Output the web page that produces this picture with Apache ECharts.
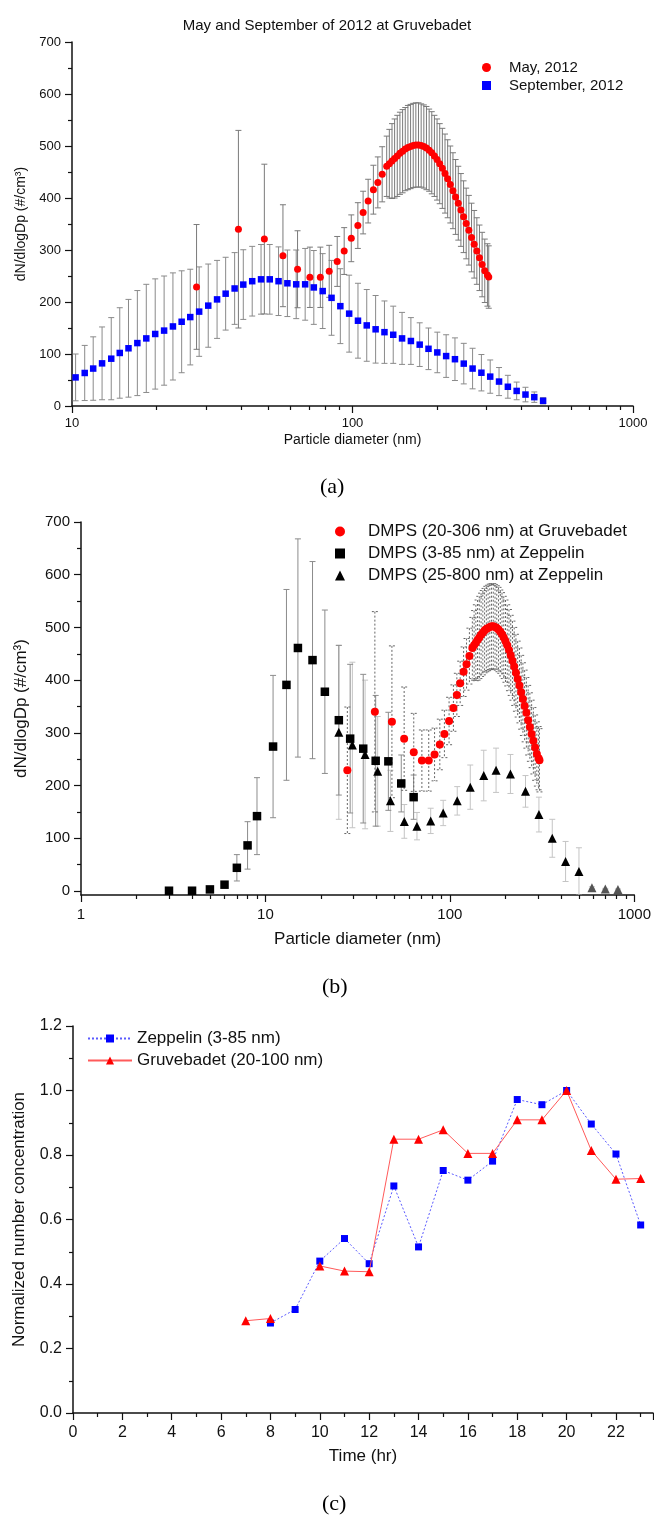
<!DOCTYPE html>
<html>
<head>
<meta charset="utf-8">
<style>
html, body { margin: 0; padding: 0; background: #fff; }
#main { width: 654px; height: 1517px; }
</style>
</head>
<body>
<div id="main"></div>
<script src="https://cdn.jsdelivr.net/npm/echarts@6/dist/echarts.min.js"></script>
<script>
// ---- (a) September 2012 at Gruvebadet
var sepDp = [10.3, 11.1, 11.9, 12.8, 13.8, 14.8, 15.9, 17.1, 18.4, 19.8, 21.3, 22.9, 24.6, 26.4, 28.4,
             30.6, 32.9, 35.3, 38.0, 40.8, 43.9, 47.2, 50.7, 54.5, 58.6, 63.0, 67.8, 72.8, 78.3, 84.2,
             90.5, 97.3, 104.6, 112.4, 120.9, 130, 139.7, 150.2, 161.5, 173.6, 186.6, 200.6, 215.7,
             231.9, 249.3, 268, 288.1, 309.7, 333, 358, 384.8, 413.7, 444.7, 478.1];
var sepN = [55, 63.5, 72, 82, 91, 102, 111, 121, 130, 138.5, 145, 153, 162, 171, 181.5,
            193, 205, 216, 226, 233.5, 240, 243.6, 243.6, 240, 236, 234, 234, 228, 221, 208,
            192, 177.6, 164, 155, 147.5, 142, 137, 130, 125, 118, 110, 103, 96,
            90, 81.5, 72, 64, 56.5, 47, 37, 29, 22, 17, 10];
var sepErr = [45, 53, 61, 70, 79, 87, 94, 101, 104, 106, 105, 103, 98, 92, 86,
              80, 75, 70, 69, 67, 67, 67, 67, 66, 64, 66, 69, 71, 72, 72,
              72, 74, 72, 69, 65, 60, 55, 50, 45, 42, 40, 39, 41,
              41, 39, 39, 35, 32, 27, 22, 17, 14, 10, 6];

// ---- May 2012, DMPS (20-306 nm) at Gruvebadet, used in (a) and (b)
var mayDp = [27.8, 39.2, 48.5, 56.5, 63.7, 70.5, 76.8, 82.6, 88.2, 93.4, 99.0, 104.5, 109.1, 113.7,
             118.7, 123.1, 127.6, 132.4, 135.3, 138.3, 141.3, 144.4, 147.6, 150.9, 154.2, 157.6,
             161.1, 164.6, 168.2, 171.9, 175.7, 179.6, 183.5, 187.6, 191.7, 195.9, 200.2, 204.6,
             209.1, 213.7, 218.4, 223.2, 228.1, 233.1, 238.3, 243.5, 248.9, 254.3, 259.9, 265.7,
             271.5, 277.5, 283.6, 289.8, 296.2, 302.7, 306];
var mayN = [229, 340, 321, 289, 263, 247.5, 247.5, 259, 278, 298, 322.5, 347, 372, 394,
            416, 430, 445.6, 461, 466, 471, 476, 481, 486, 490, 494, 497,
            499, 501, 502, 502, 501, 499, 496, 492, 487, 481, 474, 466,
            457, 447, 437, 426, 414, 402, 390, 377, 364, 351, 338, 324,
            311, 298, 285, 272, 260, 252, 248];
var mayErr = [120, 190, 144, 98, 74, 58, 58, 50, 48, 45, 45, 44, 41, 42,
              47, 49, 53, 58, 66, 72, 76, 78, 79, 80, 80, 81,
              81, 81, 81, 81, 80, 80, 80, 79, 79, 78, 78, 77,
              77, 76, 75, 74, 73, 72, 71, 70, 69, 68, 67, 66,
              65, 64, 63, 62, 61, 60, 60];

// ---- (b) DMPS (3-85 nm) at Zeppelin
var zepSDp = [3, 4, 5, 6, 7, 8, 9, 11, 13, 15, 18, 21, 25, 28.8, 33.9, 39.6, 46.4, 54.5, 63.6];
var zepSN = [0.5, 0.5, 3, 12, 44, 86.5, 142, 274, 391, 461, 438, 378, 324, 289, 270, 247, 246, 204, 178];
var zepSErr = [0.5, 0.5, 2, 6, 25, 45, 73, 135, 181, 207, 187, 155, 142, 141, 141, 124, 93, 54, 42];

// ---- (b) DMPS (25-800 nm) at Zeppelin
var zepLDp = [25, 29.6, 34.7, 40.6, 47.6, 56.6, 66.3, 78.7, 92, 109.6, 129, 152.6, 178, 213,
              257, 304, 359, 424, 501, 589, 696, 815];
var zepLN = [301, 277, 259, 227, 171, 132, 123, 133, 148, 171, 197, 219, 229, 222,
             189, 145, 100, 56, 37, 6, 4, 3];
var zepLErr = [165, 157, 141, 104, 58, 32, 26, 24, 24, 27, 42, 48, 42, 37,
               30, 33, 36, 38, 45, 2, 1, 1];

// ---- (c) normalized hourly number concentration
var hours = [0, 1, 2, 3, 4, 5, 6, 7, 8, 9, 10, 11, 12, 13, 14, 15, 16, 17, 18, 19, 20, 21, 22, 23];
var zepNorm = [null, null, null, null, null, null, null, null, 0.279, 0.321, 0.471, 0.541,
               0.463, 0.704, 0.515, 0.752, 0.722, 0.781, 0.972, 0.956, 1.0, 0.896, 0.803, 0.583];
var gruNorm = [null, null, null, null, null, null, null, 0.286, 0.293, null, 0.456, 0.44,
               0.438, 0.849, 0.849, 0.878, 0.805, 0.805, 0.909, 0.909, 1.0, 0.814, 0.725, 0.727];

var logMinor = [2, 3, 4, 5, 6, 7, 8, 9, 20, 30, 40, 50, 60, 70, 80, 90, 200, 300, 400, 500, 600, 700, 800, 900];
var yTicksB = [0, 100, 200, 300, 400, 500, 600, 700];
var yMinorB = [50, 150, 250, 350, 450, 550, 650];

var FONT = 'Liberation Sans';
var INK = '#111';

var chart = echarts.init(document.getElementById('main'));

function pts(xs, ys) {
    return xs.map(function (x, i) { return [x, ys[i]]; });
}
function linePts(xs, ys) {
    return xs.map(function (x, i) { return [x, ys[i] == null ? '-' : ys[i]]; });
}
function plainNum(v) { return String(v); }

// vertical error bars with caps, placed through the axes
function errorBars(xi, yi, xs, ys, es, color, dash, z) {
    return {
        type: 'custom',
        xAxisIndex: xi,
        yAxisIndex: yi,
        silent: true,
        clip: true,
        z: z || 1,
        encode: { x: 0, y: [1, 2] },
        data: xs.map(function (x, i) { return [x, ys[i] - es[i], ys[i] + es[i]]; }),
        renderItem: function (params, api) {
            var top = api.coord([api.value(0), api.value(2)]);
            var bot = api.coord([api.value(0), api.value(1)]);
            var w = 3;
            var st = { stroke: color, lineWidth: 1, lineDash: dash || null };
            return {
                type: 'group',
                children: [
                    { type: 'line', shape: { x1: top[0], y1: top[1], x2: bot[0], y2: bot[1] }, style: st },
                    { type: 'line', shape: { x1: top[0] - w, y1: top[1], x2: top[0] + w, y2: top[1] }, style: st },
                    { type: 'line', shape: { x1: bot[0] - w, y1: bot[1], x2: bot[0] + w, y2: bot[1] }, style: st }
                ]
            };
        }
    };
}

function baseAxis(extra) {
    var ax = {
        axisLine: { show: true, onZero: false, lineStyle: { color: INK, width: 1.5 } },
        axisTick: { show: true, inside: false, length: 7, lineStyle: { color: INK, width: 1.2 } },
        splitLine: { show: false },
        nameLocation: 'middle',
        nameTextStyle: { color: INK, fontFamily: FONT }
    };
    for (var k in extra) ax[k] = extra[k];
    return ax;
}

function minorAxis(extra) {
    var ax = {
        axisLine: { show: false, onZero: false },
        axisLabel: { show: false },
        axisTick: { show: true, inside: false, length: 4, lineStyle: { color: INK, width: 1.2 } },
        splitLine: { show: false }
    };
    for (var k in extra) ax[k] = extra[k];
    return ax;
}

// legend entries: symbol kept square, text pushed right of it
function legendItems(names, icons) {
    return names.map(function (n, i) { return { name: n, icon: icons[i] }; });
}

var option = {
    animation: false,
    backgroundColor: '#fff',
    textStyle: { fontFamily: FONT },
    title: {
        text: 'May and September of 2012 at Gruvebadet',
        left: 'center',
        top: 13,
        textStyle: { fontFamily: FONT, fontSize: 15, fontWeight: 'normal', color: INK }
    },
    grid: [
        { left: 72, top: 42, width: 561, height: 364 },
        { left: 81, top: 522, width: 555, height: 373 },
        { left: 73, top: 1026, width: 580, height: 387 }
    ],
    xAxis: [
        baseAxis({
            gridIndex: 0, type: 'log', logBase: 10, min: 10, max: 1000, position: 'bottom',
            name: 'Particle diameter (nm)', nameGap: 27,
            nameTextStyle: { color: INK, fontFamily: FONT, fontSize: 14 },
            axisLabel: { color: INK, fontSize: 13, margin: 11, fontFamily: FONT, formatter: plainNum }
        }),
        minorAxis({ gridIndex: 0, type: 'log', logBase: 10, min: 10, max: 1000, position: 'bottom',
            axisTick: { show: true, length: 4, customValues: logMinor, lineStyle: { color: INK, width: 1.2 } } }),
        baseAxis({
            gridIndex: 1, type: 'log', logBase: 10, min: 1, max: 1000, position: 'bottom',
            name: 'Particle diameter (nm)', nameGap: 36,
            nameTextStyle: { color: INK, fontFamily: FONT, fontSize: 17 },
            axisLabel: { color: INK, fontSize: 15, margin: 12, fontFamily: FONT, formatter: plainNum }
        }),
        minorAxis({ gridIndex: 1, type: 'log', logBase: 10, min: 1, max: 1000, position: 'bottom',
            axisTick: { show: true, length: 4, customValues: logMinor, lineStyle: { color: INK, width: 1.2 } } }),
        baseAxis({
            gridIndex: 2, type: 'value', min: 0, max: 23.5, interval: 2, position: 'bottom',
            name: 'Time (hr)', nameGap: 35,
            nameTextStyle: { color: INK, fontFamily: FONT, fontSize: 17 },
            axisLabel: { color: INK, fontSize: 16, margin: 12, fontFamily: FONT, showMaxLabel: false },
            minorTick: { show: true, splitNumber: 2, length: 4, lineStyle: { color: INK, width: 1.2 } }
        })
    ],
    yAxis: [
        baseAxis({
            gridIndex: 0, type: 'value', min: 0, max: 700, interval: 100,
            name: 'dN/dlogDp (#/cm³)', nameGap: 44,
            nameTextStyle: { color: INK, fontFamily: FONT, fontSize: 14 },
            axisLabel: { color: INK, fontSize: 13, margin: 11, fontFamily: FONT },
            minorTick: { show: true, splitNumber: 2, length: 4, lineStyle: { color: INK, width: 1.2 } }
        }),
        baseAxis({
            gridIndex: 1, type: 'value', min: -7.6, max: 700, splitNumber: 7,
            name: 'dN/dlogDp (#/cm³)', nameGap: 51,
            nameTextStyle: { color: INK, fontFamily: FONT, fontSize: 17 },
            axisLabel: { color: INK, fontSize: 15, margin: 11, fontFamily: FONT, customValues: yTicksB,
                formatter: function (v) { return v % 100 === 0 ? String(v) : ''; } },
            axisTick: { show: true, length: 7, customValues: yTicksB, lineStyle: { color: INK, width: 1.2 } }
        }),
        minorAxis({ gridIndex: 1, type: 'value', min: -7.6, max: 700, position: 'left',
            axisTick: { show: true, length: 4, customValues: yMinorB, lineStyle: { color: INK, width: 1.2 } } }),
        baseAxis({
            gridIndex: 2, type: 'value', min: 0, max: 1.2, interval: 0.2,
            name: 'Normalized number concentration', nameGap: 45,
            nameTextStyle: { color: INK, fontFamily: FONT, fontSize: 17 },
            axisLabel: { color: INK, fontSize: 16, margin: 11, fontFamily: FONT,
                formatter: function (v) { return v.toFixed(1); } },
            minorTick: { show: true, splitNumber: 2, length: 4, lineStyle: { color: INK, width: 1.2 } }
        })
    ],
    legend: [
        {
            left: 477, top: 55, orient: 'vertical', itemWidth: 9, itemHeight: 9, itemGap: 3,
            selectedMode: false, symbolKeepAspect: true,
            textStyle: { fontFamily: FONT, fontSize: 15, color: INK, padding: [0, 0, 0, 13] },
            data: legendItems(['May, 2012', 'September, 2012'], ['circle', 'rect'])
        },
        {
            left: 330, top: 518, orient: 'vertical', itemWidth: 10, itemHeight: 10, itemGap: 5,
            selectedMode: false, symbolKeepAspect: true,
            textStyle: { fontFamily: FONT, fontSize: 17, color: INK, padding: [0, 0, 0, 18] },
            data: legendItems(['DMPS (20-306 nm) at Gruvebadet', 'DMPS (3-85 nm) at Zeppelin',
                               'DMPS (25-800 nm) at Zeppelin'], ['circle', 'rect', 'triangle'])
        },
        {
            left: 82, top: 1025, orient: 'vertical', itemWidth: 44, itemHeight: 10, itemGap: 5,
            selectedMode: false,
            textStyle: { fontFamily: FONT, fontSize: 17, color: INK },
            data: ['Zeppelin (3-85 nm)', 'Gruvebadet (20-100 nm)']
        }
    ],
    graphic: [
        { type: 'text', left: 320, top: 476, style: { text: '(a)', font: '22px "Liberation Serif"', fill: '#000' } },
        { type: 'text', left: 322, top: 976, style: { text: '(b)', font: '22px "Liberation Serif"', fill: '#000' } },
        { type: 'text', left: 322, top: 1493, style: { text: '(c)', font: '22px "Liberation Serif"', fill: '#000' } }
    ],
    series: [
        // (a)
        errorBars(0, 0, sepDp, sepN, sepErr, '#8a8a8a', null, 1),
        errorBars(0, 0, mayDp, mayN, mayErr, '#7a7a7a', null, 1),
        {
            name: 'September, 2012', type: 'scatter', xAxisIndex: 0, yAxisIndex: 0,
            symbol: 'rect', symbolSize: 6.5, symbolKeepAspect: true,
            itemStyle: { color: '#0000ff', opacity: 1 }, z: 3,
            data: pts(sepDp, sepN)
        },
        {
            name: 'May, 2012', type: 'scatter', xAxisIndex: 0, yAxisIndex: 0,
            symbol: 'circle', symbolSize: 7, symbolKeepAspect: true,
            itemStyle: { color: '#ff0000', opacity: 1 }, z: 4,
            data: pts(mayDp, mayN)
        },
        // (b)
        errorBars(2, 1, zepLDp, zepLN, zepLErr, '#c4c4c4', null, 1),
        errorBars(2, 1, zepSDp, zepSN, zepSErr, '#8c8c8c', null, 1),
        errorBars(2, 1, mayDp, mayN, mayErr, '#666', [2, 2], 1),
        {
            name: 'DMPS (25-800 nm) at Zeppelin', type: 'scatter', xAxisIndex: 2, yAxisIndex: 1,
            symbol: 'triangle', symbolSize: 9, symbolKeepAspect: true,
            itemStyle: { color: '#000', opacity: 1 }, z: 3,
            data: zepLDp.map(function (x, i) {
                return x > 550 ? { value: [x, zepLN[i]], itemStyle: { color: '#555' } } : [x, zepLN[i]];
            })
        },
        {
            name: 'DMPS (3-85 nm) at Zeppelin', type: 'scatter', xAxisIndex: 2, yAxisIndex: 1,
            symbol: 'rect', symbolSize: 8.5, symbolKeepAspect: true,
            itemStyle: { color: '#000', opacity: 1 }, z: 3,
            data: pts(zepSDp, zepSN)
        },
        {
            name: 'DMPS (20-306 nm) at Gruvebadet', type: 'scatter', xAxisIndex: 2, yAxisIndex: 1,
            symbol: 'circle', symbolSize: 8, symbolKeepAspect: true,
            itemStyle: { color: '#ff0000', opacity: 1 }, z: 4,
            data: pts(mayDp, mayN)
        },
        // (c)
        {
            name: 'Zeppelin (3-85 nm)', type: 'line', xAxisIndex: 4, yAxisIndex: 3,
            symbol: 'rect', symbolSize: 7, connectNulls: false,
            itemStyle: { color: '#0000ff' },
            lineStyle: { color: '#5a5aff', width: 1, type: [2, 2] },
            data: linePts(hours, zepNorm), z: 3
        },
        {
            name: 'Gruvebadet (20-100 nm)', type: 'line', xAxisIndex: 4, yAxisIndex: 3,
            symbol: 'triangle', symbolSize: 9, connectNulls: false,
            itemStyle: { color: '#ff0000' },
            lineStyle: { color: '#ff5a5a', width: 1 },
            data: linePts(hours, gruNorm), z: 4
        }
    ]
};

chart.setOption(option);
</script>
</body>
</html>
